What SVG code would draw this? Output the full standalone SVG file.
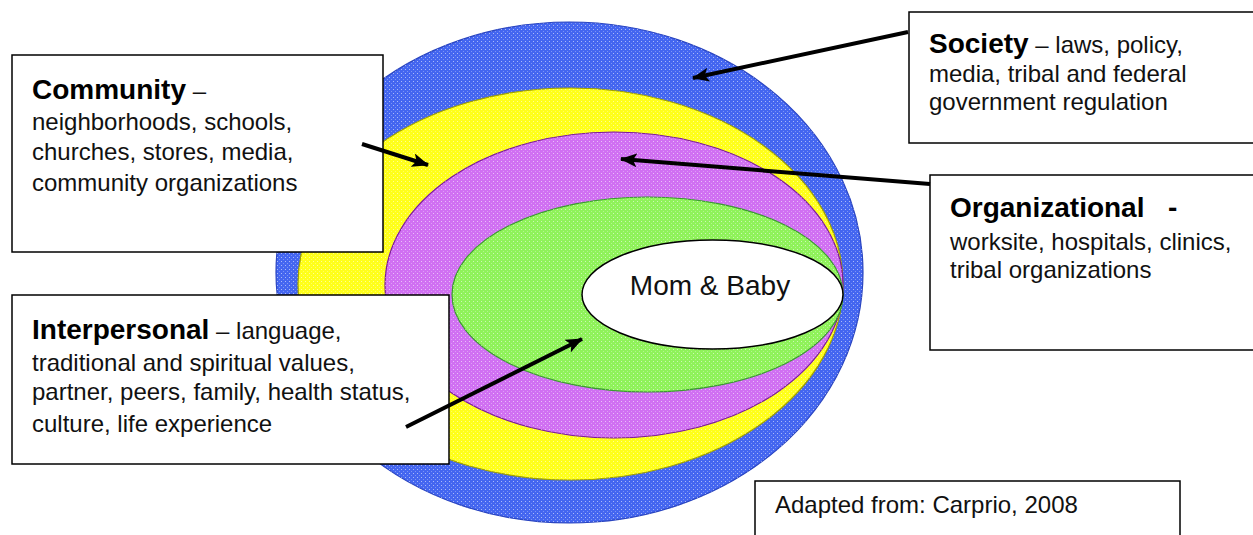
<svg xmlns="http://www.w3.org/2000/svg" width="1253" height="535" viewBox="0 0 1253 535">
<style>
.box{fill:#fff;stroke:#000;stroke-width:1.5}
.t{font-family:"Liberation Sans",Arial,sans-serif;font-size:24px;fill:#111}
.b{font-weight:bold;font-size:28px;fill:#000}
.arr{stroke:#000;stroke-width:4;fill:none;marker-end:url(#ah)}
</style>
<defs>
<pattern id="dots" patternUnits="userSpaceOnUse" width="4" height="4">
<rect x="1" y="1" width="1" height="1" fill="#fff" fill-opacity="0.55"/>
<rect x="3" y="3" width="1" height="1" fill="#fff" fill-opacity="0.3"/>
</pattern>
<marker id="ah" markerUnits="userSpaceOnUse" markerWidth="18" markerHeight="14" refX="16" refY="7" orient="auto">
<path d="M0,0 L17,7 L0,14 L4,7 Z" fill="#000"/>
</marker>
</defs>

<g id="society-ring">
<ellipse cx="569.5" cy="272.5" rx="293.5" ry="250.5" fill="#4466f0" stroke="#2a45c0" stroke-width="1.2"/>
<ellipse cx="569.5" cy="272.5" rx="293.5" ry="250.5" fill="url(#dots)"/>
</g>
<g id="community-ring">
<ellipse cx="570.5" cy="284" rx="272.5" ry="196" fill="#ffff1a" stroke="#a0a000" stroke-width="1.2"/>
<ellipse cx="570.5" cy="284" rx="272.5" ry="196" fill="url(#dots)"/>
</g>
<g id="organizational-ring">
<ellipse cx="614" cy="285" rx="229" ry="153" fill="#d070f2" stroke="#7a1a9a" stroke-width="1.2"/>
<ellipse cx="614" cy="285" rx="229" ry="153" fill="url(#dots)"/>
</g>
<g id="interpersonal-ring">
<ellipse cx="647.5" cy="294.5" rx="195.5" ry="97.5" fill="#8ff25a" stroke="#3a9a30" stroke-width="1.2"/>
<ellipse cx="647.5" cy="294.5" rx="195.5" ry="97.5" fill="url(#dots)"/>
</g>
<g id="mom-baby">
<ellipse cx="712.5" cy="294.5" rx="130.5" ry="54.5" fill="#fff" stroke="#000" stroke-width="1.5"/>
<text class="t" x="710" y="295" text-anchor="middle" style="font-size:28px">Mom &amp; Baby</text>
</g>

<g id="community-box">
<rect class="box" x="12" y="55" width="371" height="197"/>
<text class="t" x="32" y="99"><tspan class="b">Community</tspan> –</text>
<text class="t" x="32" y="130">neighborhoods, schools,</text>
<text class="t" x="32" y="160">churches, stores, media,</text>
<text class="t" x="32" y="191">community organizations</text>
</g>

<g id="society-box">
<rect class="box" x="909" y="12" width="360" height="131"/>
<text class="t" x="929" y="53"><tspan class="b">Society</tspan> – laws, policy,</text>
<text class="t" x="929" y="82">media, tribal and federal</text>
<text class="t" x="929" y="110">government regulation</text>
</g>

<g id="organizational-box">
<rect class="box" x="930" y="175" width="340" height="175"/>
<text class="t b" x="950" y="217">Organizational<tspan x="1168">-</tspan></text>
<text class="t" x="950" y="250">worksite, hospitals, clinics,</text>
<text class="t" x="950" y="278">tribal organizations</text>
</g>

<g id="interpersonal-box">
<rect class="box" x="12" y="295" width="437" height="169"/>
<text class="t" x="32" y="339"><tspan class="b">Interpersonal</tspan> – language,</text>
<text class="t" x="32" y="371">traditional and spiritual values,</text>
<text class="t" x="32" y="400">partner, peers, family, health status,</text>
<text class="t" x="32" y="432">culture, life experience</text>
</g>

<g id="source-box">
<rect class="box" x="755" y="481" width="425" height="70"/>
<text class="t" x="775" y="513">Adapted from: Carprio, 2008</text>
</g>

<g id="connectors">
<line class="arr" x1="908" y1="32" x2="693" y2="78"/>
<line class="arr" x1="362" y1="144" x2="428" y2="165"/>
<line class="arr" x1="930" y1="184" x2="621" y2="159"/>
<line class="arr" x1="406" y1="427" x2="582" y2="339"/>
</g>
</svg>
